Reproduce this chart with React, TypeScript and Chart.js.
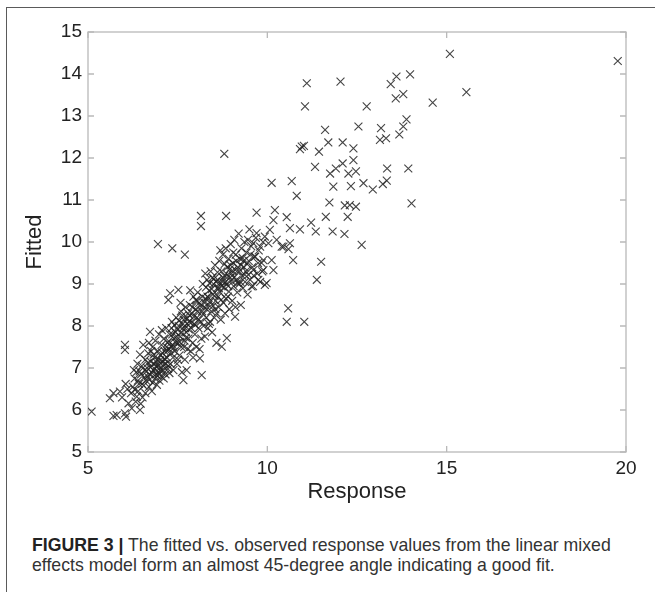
import React, { useEffect, useRef } from "react";
import { Chart, registerables } from "chart.js";

Chart.register(...registerables);

// [response, fitted] pairs, grouped by region
const upperOutliers: [number, number][] = [
  [15.09, 14.48], [19.77, 14.31], [11.10, 13.78], [12.04, 13.82], [13.44, 13.76],
  [13.60, 13.94], [13.98, 13.99], [13.79, 13.52], [13.58, 13.42], [14.61, 13.32],
  [15.55, 13.57], [11.05, 13.23], [12.77, 13.23], [13.88, 12.92], [13.79, 12.75],
  [13.68, 12.56], [12.54, 12.75], [13.17, 12.71], [13.14, 12.43], [13.31, 12.47],
  [11.61, 12.67], [11.70, 12.37], [12.10, 12.37], [12.40, 12.23], [10.96, 12.27],
  [11.02, 12.29], [10.91, 12.21], [11.44, 12.15], [12.40, 11.95], [11.33, 11.79],
  [11.75, 11.63], [11.91, 11.75], [12.10, 11.87], [12.26, 11.63], [12.47, 11.68],
  [13.34, 11.75], [13.93, 11.75], [10.12, 11.41], [10.68, 11.45], [10.82, 11.10],
  [11.84, 11.32], [12.33, 11.33], [12.68, 11.40], [12.94, 11.25], [13.22, 11.38],
  [13.33, 11.46], [14.02, 10.92], [11.73, 10.94], [12.16, 10.87], [12.30, 10.88],
  [12.47, 10.84], [11.63, 10.60], [12.24, 10.60], [8.80, 12.10],
];

const midOutliers: [number, number][] = [
  [9.70, 10.70], [10.21, 10.76], [10.17, 10.52], [10.54, 10.59], [10.63, 10.33],
  [10.91, 10.30], [11.22, 10.46], [11.35, 10.25], [11.82, 10.25], [12.15, 10.19],
  [12.63, 9.93], [11.50, 9.53], [11.38, 9.10], [10.45, 9.89], [10.59, 9.83],
  [10.72, 9.57], [10.58, 8.42], [10.54, 8.10], [11.03, 8.10],
  [9.70, 10.21], [9.93, 10.13], [10.07, 10.29], [9.61, 9.97], [9.80, 9.89],
  [10.03, 9.97], [10.26, 10.05], [10.40, 9.89], [10.63, 9.97], [9.66, 9.65],
  [9.89, 9.57], [10.12, 9.57], [9.61, 9.33], [9.89, 9.33], [10.17, 9.33],
  [9.75, 9.10], [9.98, 9.02], [9.56, 8.94], [9.93, 8.98],
  [8.15, 10.62], [8.15, 10.38], [8.85, 10.62], [6.95, 9.95], [7.35, 9.85], [7.70, 9.70],
];

const clusterLow: [number, number][] = [
  [5.10, 5.96], [5.71, 5.86], [5.80, 5.88], [6.06, 5.84], [6.03, 5.92], [5.61, 6.28],
  [5.71, 6.40], [5.89, 6.44], [6.03, 7.55], [6.03, 7.43], [6.45, 6.00], [6.22, 6.04],
  [6.13, 6.16], [6.36, 6.32], [5.95, 6.30], [6.10, 6.50], [6.20, 6.40], [6.05, 6.62],
  [6.25, 6.55], [6.30, 6.75], [6.35, 6.90], [6.40, 6.45], [6.42, 6.62], [6.48, 6.85],
  [6.50, 7.05], [6.52, 6.30], [6.55, 6.58], [6.58, 6.95], [6.60, 7.20], [6.28, 6.95],
  [6.38, 7.10], [6.45, 7.32], [6.54, 7.55], [6.33, 6.20], [6.60, 6.40], [6.47, 6.15],
  [6.62, 6.70], [6.65, 7.00], [6.68, 7.35], [6.70, 6.55], [6.72, 6.85], [6.73, 7.86],
  [6.75, 7.15], [6.78, 6.45], [6.80, 7.50], [6.82, 6.95], [6.85, 7.25], [6.87, 6.75],
  [6.88, 7.65], [6.90, 7.05], [6.92, 6.60], [6.95, 7.40], [6.97, 6.90], [6.98, 7.80],
  [6.70, 7.60], [6.84, 7.10], [6.93, 7.20], [6.66, 6.80], [6.76, 7.40], [6.99, 6.70],
  [6.89, 6.85], [6.80, 6.65],
];

const clusterMid: [number, number][] = [
  [7.00, 7.00], [7.02, 7.30], [7.04, 6.80], [7.05, 7.55], [7.08, 7.15], [7.10, 6.95],
  [7.12, 7.70], [7.14, 7.40], [7.16, 6.85], [7.18, 7.95], [7.20, 7.25], [7.22, 7.60],
  [7.24, 7.05], [7.24, 8.62], [7.26, 7.45], [7.28, 7.80], [7.29, 8.78], [7.30, 7.10],
  [7.32, 7.35], [7.34, 8.10], [7.36, 7.55], [7.38, 6.95], [7.40, 7.70], [7.06, 7.90],
  [7.15, 7.20], [7.33, 7.95], [7.11, 6.75], [7.27, 6.88], [7.19, 7.50], [7.37, 7.25],
  [7.42, 7.40], [7.44, 7.85], [7.46, 8.20], [7.48, 7.10], [7.50, 7.60], [7.52, 8.86],
  [7.53, 8.00], [7.55, 7.30], [7.57, 7.75], [7.59, 8.35], [7.60, 7.50], [7.62, 6.90],
  [7.64, 7.95], [7.66, 6.71], [7.67, 8.15], [7.69, 7.65], [7.70, 7.20], [7.72, 8.45],
  [7.74, 7.85], [7.75, 6.95], [7.76, 8.05], [7.78, 7.45], [7.45, 7.60], [7.58, 8.55],
  [7.63, 8.25], [7.51, 7.20], [7.71, 7.95], [7.79, 8.30],
  [7.80, 7.70], [7.82, 8.10], [7.84, 8.50], [7.86, 7.40], [7.88, 7.95], [7.90, 8.30],
  [7.92, 7.60], [7.94, 8.70], [7.96, 8.05], [7.98, 7.80], [8.00, 8.40], [8.02, 7.50],
  [8.04, 8.20], [8.06, 8.80], [8.08, 7.95], [8.10, 8.55], [8.12, 7.23], [8.14, 8.10],
  [8.16, 7.70], [8.17, 6.83], [8.18, 8.35], [8.20, 9.00], [7.85, 8.85], [8.03, 8.60],
  [7.93, 7.25], [8.11, 7.45],
];

const clusterHigh: [number, number][] = [
  [8.22, 8.00], [8.24, 8.45], [8.26, 7.75], [8.28, 8.65], [8.30, 8.20], [8.32, 9.10],
  [8.34, 7.95], [8.36, 8.50], [8.38, 8.85], [8.40, 8.10], [8.42, 9.30], [8.44, 8.35],
  [8.46, 7.85], [8.48, 8.75], [8.50, 9.00], [8.52, 8.20], [8.54, 9.45], [8.56, 8.60],
  [8.58, 7.60], [8.60, 8.90], [8.27, 9.25], [8.37, 8.05], [8.47, 9.15], [8.55, 8.40],
  [8.33, 8.70],
  [8.62, 9.10], [8.64, 8.45], [8.66, 9.55], [8.68, 8.80], [8.70, 8.15], [8.72, 9.30],
  [8.73, 7.51], [8.74, 8.95], [8.76, 9.70], [8.78, 8.55], [8.80, 9.20], [8.82, 8.30],
  [8.84, 9.85], [8.86, 9.00], [8.87, 7.71], [8.88, 9.40], [8.90, 8.70], [8.92, 9.60],
  [8.94, 8.40], [8.96, 9.15], [8.98, 9.95], [8.65, 8.90], [8.75, 9.05], [8.85, 8.65],
  [8.95, 9.35], [8.69, 9.80], [8.91, 8.95],
  [9.00, 9.25], [9.02, 8.60], [9.04, 9.50], [9.06, 8.95], [9.08, 10.05], [9.10, 8.22],
  [9.12, 9.70], [9.14, 9.10], [9.16, 8.80], [9.18, 9.40], [9.20, 10.20], [9.22, 9.00],
  [9.24, 9.60], [9.26, 8.50], [9.28, 9.85], [9.30, 9.20], [9.32, 8.90], [9.34, 9.55],
  [9.36, 10.00], [9.38, 9.05], [9.05, 9.75], [9.15, 9.30], [9.25, 9.05], [9.35, 9.40],
  [9.11, 8.45],
  [9.40, 9.30], [9.42, 9.75], [9.45, 8.75], [9.48, 9.55], [9.50, 10.30], [9.52, 9.10],
  [9.55, 9.90], [9.58, 9.40], [9.60, 8.95], [9.64, 9.65], [9.68, 10.10], [9.72, 9.25],
  [9.76, 9.80], [9.80, 9.05], [9.84, 9.50], [9.88, 10.00], [9.46, 10.05], [9.62, 9.20],
  [9.74, 9.50], [9.86, 9.30],
];

const clusterCore: [number, number][] = [
  [6.31, 6.48], [6.39, 6.70], [6.44, 6.92], [6.51, 6.62], [6.57, 6.78], [6.63, 6.92],
  [6.67, 7.12], [6.71, 6.72], [6.74, 7.02], [6.79, 6.88], [6.83, 7.32], [6.86, 6.98],
  [6.91, 7.14], [6.94, 6.82], [6.96, 7.06], [7.01, 7.18], [7.03, 6.92], [7.07, 7.36],
  [7.09, 7.05], [7.13, 7.22], [7.17, 7.10], [7.21, 7.40], [7.23, 6.98], [7.25, 7.64],
  [7.31, 7.52], [7.35, 7.80], [7.39, 7.48], [7.41, 8.02], [7.47, 7.75], [7.49, 7.92],
  [7.54, 8.12], [7.56, 7.62], [7.61, 7.84], [7.65, 8.05], [7.68, 7.50], [7.73, 7.72],
  [7.77, 8.18], [7.81, 7.92], [7.83, 8.25], [7.87, 8.08], [7.91, 8.45], [7.95, 8.22],
  [7.99, 8.02], [8.01, 8.62], [8.05, 8.35], [8.09, 8.15], [8.13, 8.48], [8.19, 8.70],
  [8.21, 8.28], [8.25, 8.55], [8.29, 8.92], [8.31, 8.40], [8.35, 8.68], [8.39, 9.02],
  [8.41, 8.58], [8.45, 8.88], [8.49, 8.48], [8.51, 9.12], [8.53, 8.72], [8.57, 9.05],
  [8.59, 8.30], [8.61, 9.28], [8.63, 8.70], [8.67, 9.02], [8.71, 8.62], [8.77, 9.15],
  [8.79, 8.92], [8.81, 9.48], [8.83, 9.05], [8.89, 9.22], [8.93, 8.82], [8.97, 9.45],
  [8.99, 9.08], [9.03, 9.32], [9.07, 9.15], [9.13, 9.55], [9.17, 9.02], [9.21, 9.30],
  [9.27, 9.45], [9.31, 9.62], [9.37, 9.22], [9.43, 9.48], [9.47, 9.22], [9.53, 9.70],
];

const xTickValues = [5, 10, 15, 20];
const yTickValues = [5, 6, 7, 8, 9, 10, 11, 12, 13, 14, 15];
const xTitle = "Response";
const yTitle = "Fitted";

const allPairs = [
  ...upperOutliers, ...midOutliers, ...clusterLow, ...clusterMid, ...clusterHigh, ...clusterCore,
];

const boxPlugin = {
  id: "boxTicks",
  beforeDatasetsDraw(chart: any) {
    const { ctx, chartArea: a, scales } = chart;
    ctx.save();
    ctx.strokeStyle = "#b9b9b9";
    ctx.lineWidth = 1.3;
    ctx.strokeRect(a.left, a.top, a.right - a.left, a.bottom - a.top);
    const L = 6;
    ctx.beginPath();
    xTickValues.forEach((v) => {
      const px = scales.x.getPixelForValue(v);
      ctx.moveTo(px, a.bottom);
      ctx.lineTo(px, a.bottom - L);
      ctx.moveTo(px, a.top);
      ctx.lineTo(px, a.top + L);
    });
    yTickValues.forEach((v) => {
      const py = scales.y.getPixelForValue(v);
      ctx.moveTo(a.left, py);
      ctx.lineTo(a.left + L, py);
      ctx.moveTo(a.right, py);
      ctx.lineTo(a.right - L, py);
    });
    ctx.stroke();
    ctx.restore();
  },
};

export default function App() {
  const ref = useRef<HTMLCanvasElement | null>(null);
  useEffect(() => {
    if (!ref.current) return;
    const font = "'Liberation Sans', Arial, sans-serif";
    const chart = new Chart(ref.current, {
      type: "scatter",
      data: {
        datasets: [
          {
            data: allPairs.map(([x, y]) => ({ x, y })),
            pointStyle: "crossRot",
            pointRadius: 5.6,
            pointBorderColor: "rgba(35,35,35,0.85)",
            pointBorderWidth: 1.1,
            pointBackgroundColor: "transparent",
          },
        ],
      },
      options: {
        animation: false,
        responsive: false,
        devicePixelRatio: 1,
        layout: { padding: { top: 32, right: 29, left: 0, bottom: 0 } },
        plugins: { legend: { display: false }, tooltip: { enabled: false } },
        scales: {
          x: {
            type: "linear",
            min: 5,
            max: 20,
            afterBuildTicks: (s: any) => { s.ticks = xTickValues.map((v) => ({ value: v })); },
            afterFit: (s: any) => { s.height = 58; },
            grid: { display: false, drawTicks: false, tickLength: 0 },
            border: { display: false },
            ticks: { color: "#222", font: { family: font, size: 19 }, padding: 5, maxRotation: 0 },
            title: { display: true, text: xTitle, color: "#222", font: { family: font, size: 22 }, padding: { top: 0, bottom: 5 } },
          },
          y: {
            type: "linear",
            min: 5,
            max: 15,
            afterBuildTicks: (s: any) => { s.ticks = yTickValues.map((v) => ({ value: v })); },
            afterFit: (s: any) => { s.width = 88; },
            grid: { display: false, drawTicks: false, tickLength: 0 },
            border: { display: false },
            ticks: { color: "#222", font: { family: font, size: 19 }, padding: 6 },
            title: { display: true, text: yTitle, color: "#222", font: { family: font, size: 22 }, padding: { top: 22, bottom: 0 } },
          },
        },
      },
      plugins: [boxPlugin],
    });
    return () => chart.destroy();
  }, []);

  return (
    <div style={{ position: "absolute", left: 0, top: 0, width: 655, height: 592, overflow: "hidden", background: "#fff" }}>
      <div
        style={{
          position: "absolute",
          left: 6,
          top: 7,
          width: 720,
          height: 720,
          borderLeft: "1.5px solid #5a5a5a",
          borderTop: "1.5px solid #5a5a5a",
        }}
      />
      <canvas ref={ref} width={655} height={510} style={{ position: "absolute", left: 0, top: 0, width: 655, height: 510 }} />
      <div
        style={{
          position: "absolute",
          left: 32,
          top: 535,
          fontFamily: "'Liberation Sans', Arial, sans-serif",
          fontSize: 17.7,
          lineHeight: "20px",
          color: "#333",
          whiteSpace: "nowrap",
        }}
      >
        <b style={{ color: "#222" }}>FIGURE 3 |</b> The fitted vs. observed response values from the linear mixed
        <br />
        effects model form an almost 45-degree angle indicating a good fit.
      </div>
    </div>
  );
}
